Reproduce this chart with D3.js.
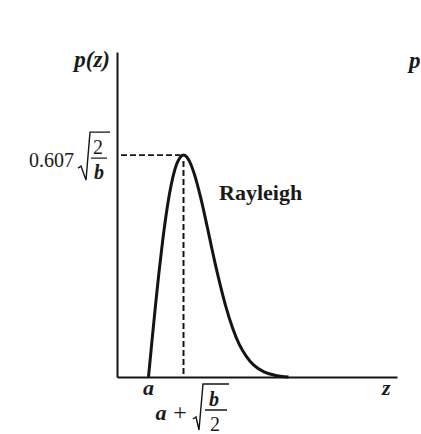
<!DOCTYPE html>
<html>
<head>
<meta charset="utf-8">
<script src="https://cdn.jsdelivr.net/npm/d3@7"></script>
<style>
  html, body { margin: 0; padding: 0; background: #fff; }
  svg text { font-family: "Liberation Serif", "DejaVu Serif", serif; fill: #1a1a1a; }
</style>
</head>
<body>
<svg id="chart" width="421" height="434"></svg>
<script>
// ---- data (z in units where a = 0.9, sqrt(b/2) = 1) ----
const zValues = [0.9, 1.0, 1.1, 1.2, 1.3, 1.4, 1.5, 1.6, 1.7, 1.8, 1.9, 2.0, 2.1, 2.2, 2.3, 2.4, 2.5, 2.6, 2.7, 2.8, 2.9, 3.1, 3.3, 3.5, 3.7, 3.9, 4.2, 4.5, 4.9];
const pValues = [0, 0.0995, 0.196, 0.287, 0.369, 0.441, 0.501, 0.548, 0.581, 0.600, 0.607, 0.601, 0.584, 0.558, 0.525, 0.487, 0.445, 0.401, 0.356, 0.312, 0.271, 0.196, 0.135, 0.088, 0.056, 0.033, 0.014, 0.005, 0];
const peakZ = 1.9;
const peakP = 0.607;
const aZ = 0.9;
const xDomain = [0, 8];
const yDomain = [0, 0.889];
const seriesName = "Rayleigh";
const yAxisLabel = "p(z)";
const xAxisLabel = "z";
const peakLabel = "0.607";
const xTickLabelA = "a";

const svg = d3.select("#chart");
const x = d3.scaleLinear().domain(xDomain).range([117, 397]);
const y = d3.scaleLinear().domain(yDomain).range([377, 52]);
const ink = "#141414";

// axes (domain lines only)
svg.append("g").attr("transform", `translate(${x(0)},0)`)
  .call(d3.axisLeft(y).tickValues([]).tickSizeOuter(0))
  .call(g => g.select(".domain").attr("stroke", ink).attr("stroke-width", 2));
svg.append("g").attr("transform", `translate(0,${y(0)})`)
  .call(d3.axisBottom(x).tickValues([]).tickSizeOuter(0))
  .call(g => g.select(".domain").attr("stroke", ink).attr("stroke-width", 2));

// dashed guides
svg.append("line")
  .attr("x1", x(0) + 4).attr("x2", x(peakZ) - 3)
  .attr("y1", y(peakP)).attr("y2", y(peakP))
  .attr("stroke", ink).attr("stroke-width", 1.6).attr("stroke-dasharray", "6,3");
svg.append("line")
  .attr("x1", x(peakZ)).attr("x2", x(peakZ))
  .attr("y1", y(peakP) + 6).attr("y2", y(0))
  .attr("stroke", ink).attr("stroke-width", 2).attr("stroke-dasharray", "6,3");

// curve
const pts = zValues.map((z, i) => [z, pValues[i]]);
svg.append("path").datum(pts)
  .attr("fill", "none").attr("stroke", ink).attr("stroke-width", 3)
  .attr("stroke-linejoin", "round")
  .attr("d", d3.line().x(d => x(d[0])).y(d => y(d[1])).curve(d3.curveMonotoneX));

// labels
svg.append("text").attr("x", x(0) - 7).attr("y", 67).attr("text-anchor", "end")
  .attr("font-size", 23).attr("font-style", "italic").attr("font-weight", "bold").text(yAxisLabel);
svg.append("text").attr("x", 409).attr("y", 68)
  .attr("font-size", 23).attr("font-style", "italic").attr("font-weight", "bold").text("p");
svg.append("text").attr("x", 382).attr("y", 395)
  .attr("font-size", 22).attr("font-style", "italic").attr("font-weight", "bold").text(xAxisLabel);
svg.append("text").attr("x", 219).attr("y", 200)
  .attr("font-size", 22).attr("font-weight", "bold").text(seriesName);

// y-peak label: 0.607 sqrt(2/b)
const yp = y(peakP);
svg.append("text").attr("x", 74).attr("y", yp + 12).attr("text-anchor", "end")
  .attr("font-size", 20).text(peakLabel);
svg.append("path")
  .attr("d", `M78,${yp + 13} L81,${yp + 11} L86,${yp + 25} L90,${yp - 23} L110,${yp - 23}`)
  .attr("fill", "none").attr("stroke", ink).attr("stroke-width", 1.4);
svg.append("text").attr("x", 98).attr("y", yp - 1).attr("text-anchor", "middle")
  .attr("font-size", 20).text("2");
svg.append("line").attr("x1", 91).attr("x2", 107).attr("y1", yp + 3).attr("y2", yp + 3)
  .attr("stroke", ink).attr("stroke-width", 1.2);
svg.append("text").attr("x", 99).attr("y", yp + 24).attr("text-anchor", "middle")
  .attr("font-size", 20).attr("font-style", "italic").attr("font-weight", "bold").text("b");

// x tick labels
const y0 = y(0);
svg.append("text").attr("x", x(aZ)).attr("y", y0 + 18).attr("text-anchor", "middle")
  .attr("font-size", 22).attr("font-style", "italic").attr("font-weight", "bold").text(xTickLabelA);
svg.append("text").attr("x", 161).attr("y", y0 + 43).attr("text-anchor", "middle")
  .attr("font-size", 22).attr("font-style", "italic").attr("font-weight", "bold").text("a");
svg.append("text").attr("x", 180).attr("y", y0 + 43).attr("text-anchor", "middle")
  .attr("font-size", 24).text("+");
svg.append("path")
  .attr("d", `M193,${y0 + 42} L196,${y0 + 40} L199,${y0 + 53} L203,${y0 + 7} L229,${y0 + 7}`)
  .attr("fill", "none").attr("stroke", ink).attr("stroke-width", 1.4);
svg.append("text").attr("x", 214).attr("y", y0 + 29).attr("text-anchor", "middle")
  .attr("font-size", 20).attr("font-style", "italic").attr("font-weight", "bold").text("b");
svg.append("line").attr("x1", 205).attr("x2", 227).attr("y1", y0 + 33).attr("y2", y0 + 33)
  .attr("stroke", ink).attr("stroke-width", 1.5);
svg.append("text").attr("x", 215).attr("y", y0 + 54).attr("text-anchor", "middle")
  .attr("font-size", 20).text("2");
</script>
</body>
</html>
